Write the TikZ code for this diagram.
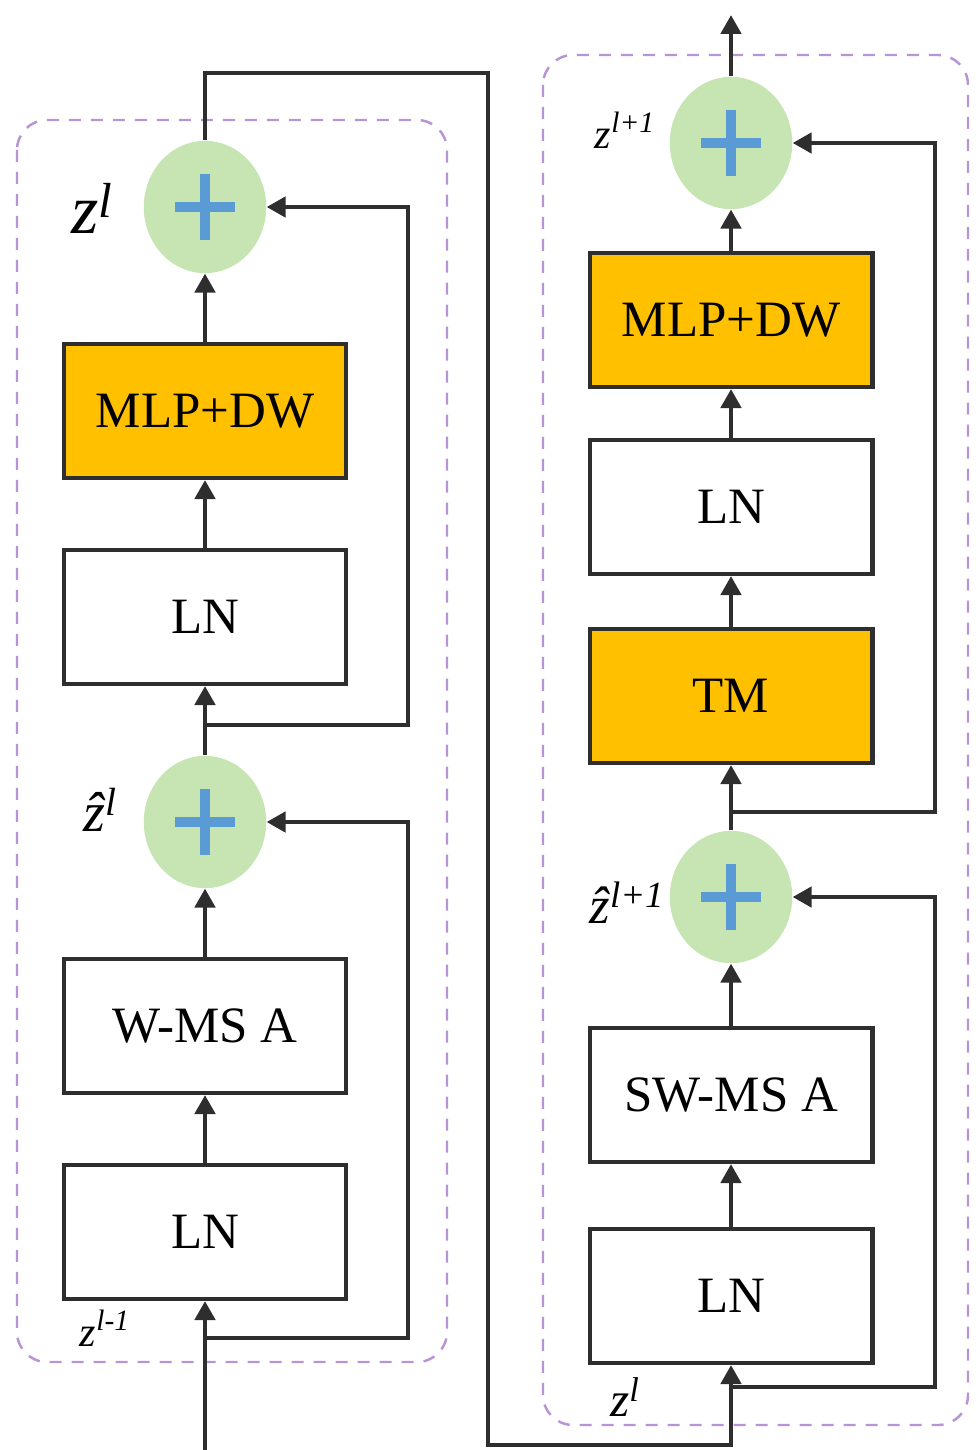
\documentclass[tikz,border=0pt]{standalone}
\usepackage{fontspec}
\setmainfont{Liberation Serif}
\usetikzlibrary{arrows.meta}
\definecolor{boxorange}{HTML}{FFC000}
\definecolor{circgreen}{HTML}{C6E5B3}
\definecolor{plusblue}{HTML}{5B9BD5}
\definecolor{dashpurple}{HTML}{B794D6}
\definecolor{edge}{HTML}{2E2E2E}
\newcommand{\zlab}[3]{{\fontsize{#1}{#1}\selectfont\itshape #2\textsuperscript{#3}}}
\tikzset{
  blk/.style={draw=edge, line width=2.3pt, minimum width=5.66cm, minimum height=2.68cm, inner sep=0pt, font=\fontsize{29}{34}\selectfont},
  lblk/.style={blk, fill=white},
  oblk/.style={blk, fill=boxorange},
  addc/.style={draw=none, fill=circgreen, circle, minimum size=2.45cm, inner sep=0pt, yscale=1.08,
    path picture={\draw[plusblue, line width=5.5pt] ([xshift=-0.6cm]path picture bounding box.center) -- ([xshift=0.6cm]path picture bounding box.center);
                  \draw[plusblue, line width=5.5pt] ([yshift=-0.62cm]path picture bounding box.center) -- ([yshift=0.62cm]path picture bounding box.center);}},
  conn/.style={draw=edge, line width=2.6pt},
  arr/.style={conn, -{Triangle[length=0.38cm, width=0.4cm]}},
  dbox/.style={draw=dashpurple, line width=1.4pt, dash pattern=on 0.24cm off 0.2cm, rounded corners=0.6cm},
  lbl/.style={inner sep=0pt}
}
\begin{document}
\begin{tikzpicture}[x=0.02cm, y=-0.02cm]
\useasboundingbox (0,0) rectangle (977,1450);
% dashed frames
\draw[dbox] (17,120) rectangle (447,1362);
\draw[dbox] (543,55) rectangle (968,1425);
% left column
\node[lblk] (lLN1) at (205,1232) {LN};
\node[lblk] (lWM) at (205,1026) {W-MS A};
\node[addc] (lhz) at (205,822) {};
\node[lblk] (lLN2) at (205,617) {LN};
\node[oblk] (lMLP) at (205,411) {MLP+DW};
\node[addc] (lz) at (205,207) {};
% right column
\node[lblk] (rLN1) at (731,1296) {LN};
\node[lblk] (rSW) at (731,1095) {SW-MS A};
\node[addc] (rhz) at (731,897) {};
\node[oblk] (rTM) at (731,696) {TM};
\node[lblk] (rLN2) at (731,507) {LN};
\node[oblk] (rMLP) at (731,320) {MLP+DW};
\node[addc] (rz) at (731,143) {};
% labels
\node[lbl] (t1) at (92,208) {\zlab{40}{z}{l}};
\node[lbl] (t2) at (100,810) {\zlab{32}{ẑ}{l}};
\node[lbl] (t3) at (105,1328) {\zlab{24}{z}{l-1}};
\node[lbl] (t4) at (625,130) {\zlab{24}{z}{l+1}};
\node[lbl] (t5) at (627,903) {\zlab{30}{ẑ}{l+1}};
\node[lbl] (t6) at (625,1397) {\zlab{28}{z}{l}};
% coordinates
\coordinate (in) at (205,1450);
\coordinate (lb1) at (205,1338);
\coordinate (lc1) at (408,822);
\coordinate (lb2) at (205,725);
\coordinate (lc2) at (408,207);
\coordinate (top1) at (205,73);
\coordinate (top2) at (488,73);
\coordinate (bot1) at (488,1445);
\coordinate (bot2) at (731,1445);
\coordinate (rb1) at (731,1387);
\coordinate (rc1) at (935,897);
\coordinate (rb2) at (731,812);
\coordinate (rc2) at (935,143);
\coordinate (out) at (731,15);
% left connectors
\draw[arr] (in) -- (lLN1.south);
\draw[arr] (lLN1.north) -- (lWM.south);
\draw[arr] (lWM.north) -- (lhz.south);
\draw[arr] (lhz.north) -- (lLN2.south);
\draw[arr] (lLN2.north) -- (lMLP.south);
\draw[arr] (lMLP.north) -- (lz.south);
\draw[arr] (lb1) -| (lc1) -- (lhz.east);
\draw[arr] (lb2) -| (lc2) -- (lz.east);
\draw[arr] (lz.north) -- (top1) -- (top2) -- (bot1) -- (bot2) -- (rLN1.south);
% right connectors
\draw[arr] (rLN1.north) -- (rSW.south);
\draw[arr] (rSW.north) -- (rhz.south);
\draw[arr] (rhz.north) -- (rTM.south);
\draw[arr] (rTM.north) -- (rLN2.south);
\draw[arr] (rLN2.north) -- (rMLP.south);
\draw[arr] (rMLP.north) -- (rz.south);
\draw[arr] (rb1) -| (rc1) -- (rhz.east);
\draw[arr] (rb2) -| (rc2) -- (rz.east);
\draw[arr] (rz.north) -- (out);
\end{tikzpicture}
\end{document}
